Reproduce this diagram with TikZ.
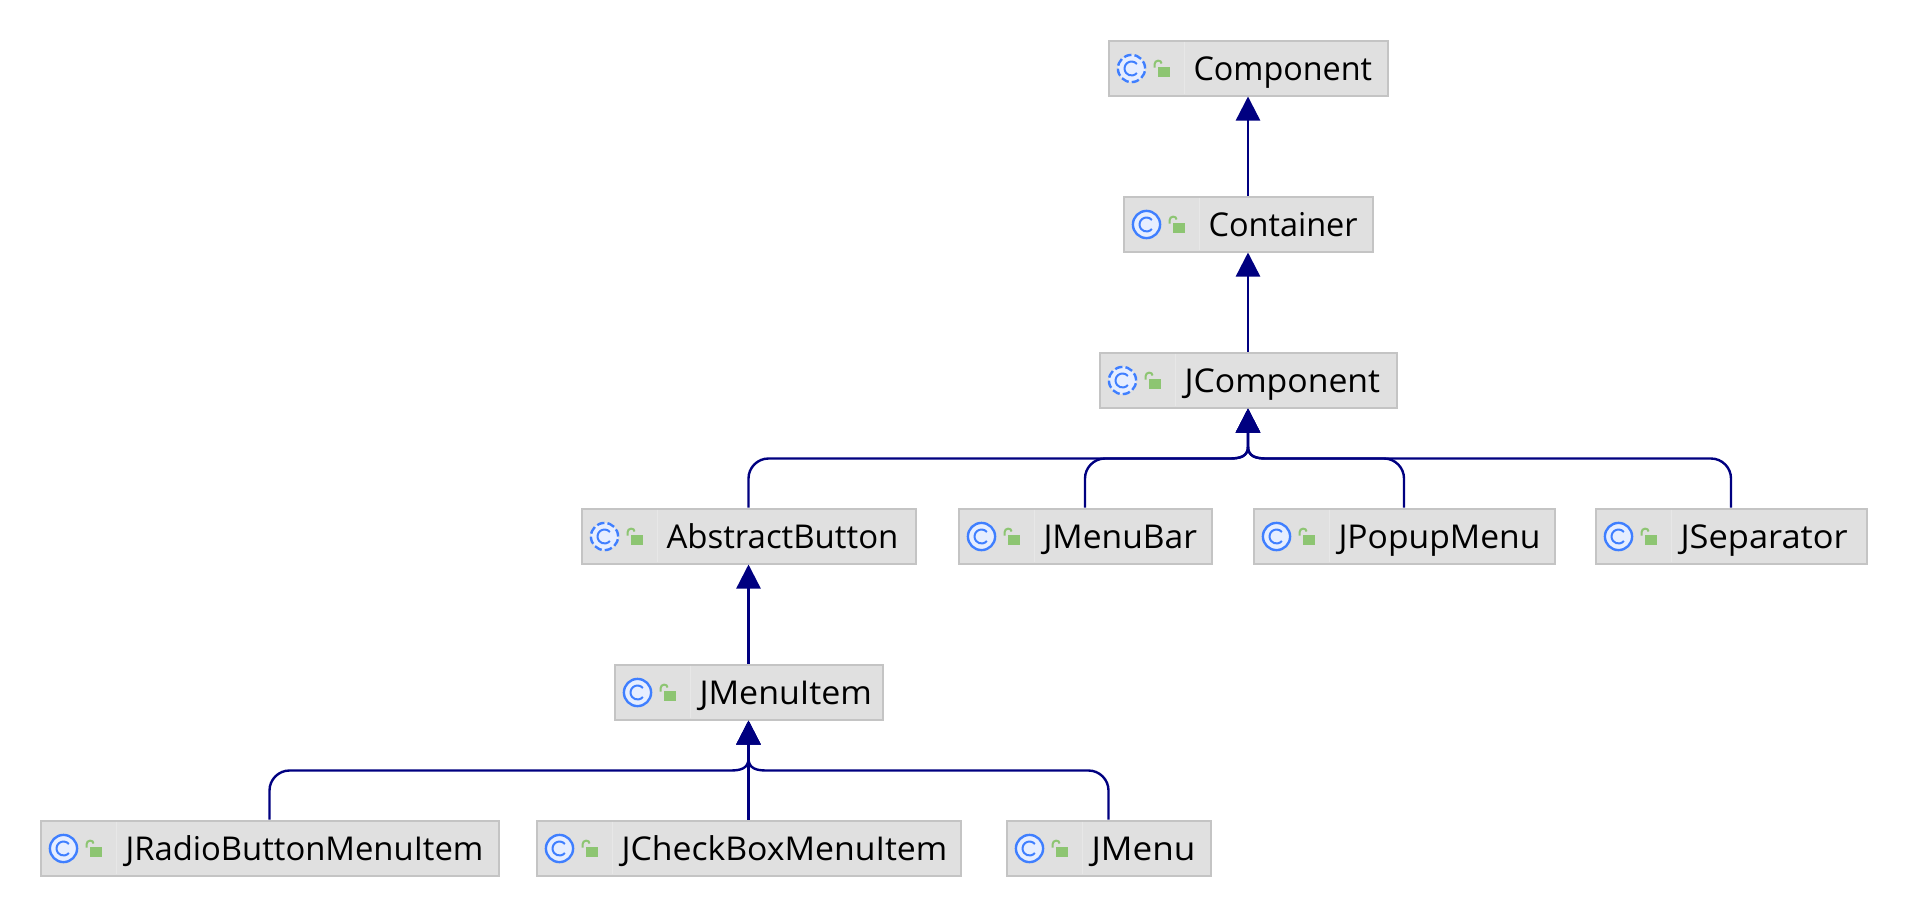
\documentclass[tikz,border=0pt]{standalone}
\usepackage{fontspec}
\setmainfont{Open Sans}
\usetikzlibrary{arrows.meta,calc}
\definecolor{boxfill}{HTML}{E0E0E0}
\definecolor{boxline}{HTML}{C4C4C4}
\definecolor{divline}{HTML}{E7E7E7}
\definecolor{edgeblue}{HTML}{000080}
\definecolor{iconblue}{HTML}{3F7FFF}
\definecolor{iconfill}{HTML}{E6EEFF}
\definecolor{lockgreen}{HTML}{8DC572}
\tikzset{
  x=0.5pt,y=-0.5pt,
  classbox/.style={draw=boxline,fill=boxfill,line width=1pt,anchor=north west,inner sep=0pt,minimum height=27.5pt},
  classname/.style={anchor=base west,inner sep=0pt,outer sep=0pt,text=black,font=\fontsize{16.4pt}{19pt}\selectfont},
  iconring/.style={draw=iconblue,fill=iconfill,line width=1.2pt},
  abstractring/.style={dash pattern=on 3.8pt off 1.54pt},
  iconc/.style={draw=iconblue,line width=1pt},
  lockbody/.style={fill=lockgreen},
  lockbar/.style={draw=lockgreen,line width=1pt},
  edge/.style={draw=edgeblue,line width=1.2pt,-{Triangle[length=12pt,width=12pt]}},
}
% #1 name, #2 left, #3 right, #4 top, #5 text, #6 extra ring style, #7 horizontal text scale
\newcommand{\cls}[7]{%
  \node[classbox,minimum width={(#3-#2-1)*0.5pt}] (#1) at (#2,#4) {};
  \draw[divline,line width=0.6pt] (#2+77,#4+2) -- (#2+77,#4+54);
  \node[classname] (#1T) at (#2+86,#4+41) {\scalebox{#7}[1]{#5}};
  \draw[iconring,#6] (#2+24,#4+29) circle[radius=6.8pt];
  \draw[iconc] (#2+24,#4+29) ++(40:3.5pt) arc[start angle=40,end angle=320,radius=3.5pt];
  \fill[lockbody] (#2+50,#4+27) rectangle (#2+62,#4+37);
  \draw[lockbar] (#2+47,#4+28) -- (#2+47,#4+25) .. controls (#2+47,#4+20) and (#2+54,#4+20) .. (#2+54,#4+24);
}
\newcommand{\straight}[2]{\draw[edge] (#1.north) -- (#2.south);}
\newcommand{\branch}[2]{%
  \draw[edge] let \p1=(#1.north),\p2=(#2.south),\n1={ifthenelse(\x2>\x1,1,-1)} in
    (\p1) -- (\x1,\y2-35pt)
    .. controls (\x1,\y2-29.5pt) and (\x1+\n1*4.5pt,\y2-25pt) .. (\x1+\n1*10pt,\y2-25pt)
    -- (\x2-\n1*9pt,\y2-25pt)
    .. controls (\x2-\n1*4pt,\y2-25pt) and (\x2,\y2-24pt) .. (\x2,\y2-19pt)
    -- (\p2);
}
\begin{document}
\begin{tikzpicture}
\useasboundingbox (0.5,0.5) rectangle (1908.5,916.5);
\cls{component}{1108}{1388}{40}{Component}{abstractring}{0.986}
\cls{container}{1123}{1373}{196}{Container}{}{0.99}
\cls{jcomponent}{1099}{1397}{352}{JComponent}{abstractring}{1.03}
\cls{abstractbutton}{581}{916}{508}{AbstractButton}{abstractring}{1.005}
\cls{jmenubar}{958}{1212}{508}{JMenuBar}{}{1.024}
\cls{jpopupmenu}{1253}{1555}{508}{JPopupMenu}{}{1.025}
\cls{jseparator}{1595}{1867}{508}{JSeparator}{}{1.05}
\cls{jmenuitem}{614}{883}{664}{JMenuItem}{}{1.035}
\cls{jradio}{40}{499}{820}{JRadioButtonMenuItem}{}{1}
\cls{jcheck}{536}{961}{820}{JCheckBoxMenuItem}{}{1.03}
\cls{jmenu}{1006}{1211}{820}{JMenu}{}{1.07}
\straight{container}{component}
\straight{jcomponent}{container}
\branch{abstractbutton}{jcomponent}
\branch{jmenubar}{jcomponent}
\branch{jpopupmenu}{jcomponent}
\branch{jseparator}{jcomponent}
\straight{jmenuitem}{abstractbutton}
\branch{jradio}{jmenuitem}
\straight{jcheck}{jmenuitem}
\branch{jmenu}{jmenuitem}
\end{tikzpicture}
\end{document}
